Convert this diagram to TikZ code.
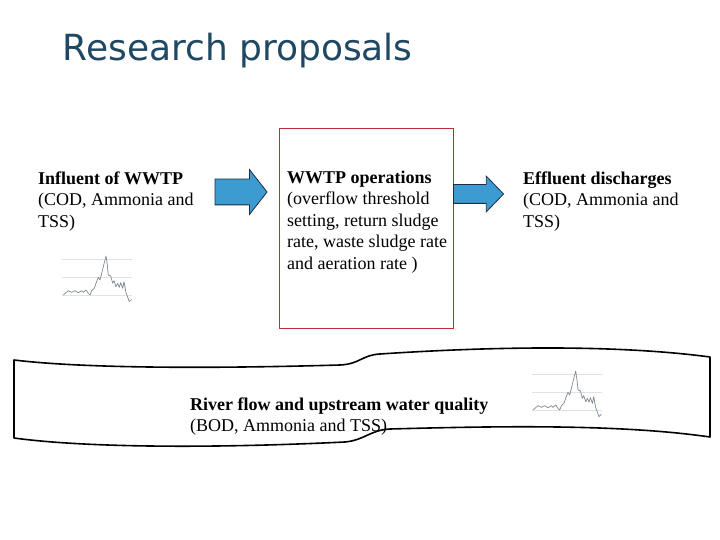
\documentclass[tikz,border=0pt]{standalone}
\usepackage{fontspec}
\setmainfont{Liberation Serif}
\newfontfamily\titlefont{DejaVu Sans}
\usetikzlibrary{shapes.arrows}
\definecolor{titleblue}{RGB}{31,72,99}
\definecolor{boxred}{RGB}{190,45,55}
\definecolor{arrowblue}{RGB}{60,155,208}
\definecolor{arrowedge}{RGB}{30,45,70}
\definecolor{sparkgray}{RGB}{125,135,150}
\definecolor{gridgray}{RGB}{226,226,226}
\tikzset{
  txt/.style={anchor=north west, inner sep=0pt, align=left, font=\fontsize{18}{21.6}\selectfont},
  opsbox/.style={draw=boxred, line width=0.8pt, minimum width=174pt, minimum height=200pt, inner sep=0pt},
  blockarr/.style={single arrow, draw=arrowedge, fill=arrowblue, line width=0.8pt, inner xsep=0pt,
    single arrow head indent=0pt},
  spark/.pic={
    \foreach \g in {0,-18,-36} \draw[gridgray, line width=0.5pt] (-1,\g) -- (69,\g);
    \draw[sparkgray, line width=0.7pt, line join=round]
      (0,0) -- (5,-4.3) -- (8.4,-2.7) -- (11.7,-4.3) -- (15,-2.3) -- (18.4,-4.3) -- (20,-2.7)
      -- (22.7,-5) -- (25,-1.7) -- (26.7,0) -- (28.4,-4.3) -- (31,-6.7) -- (32.7,-11.7)
      -- (35,-17.7) -- (36.7,-15) -- (38.4,-21.7) -- (40,-28.3) -- (42.7,-39) -- (44,-30)
      -- (45,-20) -- (47.4,-19) -- (49.4,-11.7) -- (50.7,-14.3) -- (52.7,-8.3) -- (54.4,-11.7)
      -- (56,-7.7) -- (57.4,-12.3) -- (59.4,-6.7) -- (60.7,-13.3) -- (62.7,-2.3) -- (64.4,2.3)
      -- (66,6.7) -- (68.4,4.3);
  }
}
\begin{document}
\begin{tikzpicture}[x=1pt, y=-1pt]
  \fill[white] (0,0) rectangle (720,540);
  \useasboundingbox (0,0) rectangle (720,540);
  \node[anchor=base west, inner sep=0pt, text=titleblue, font=\titlefont\fontsize{36}{40}\selectfont]
    (title) at (62.5,61) {Research proposals};

  \draw[line width=1.6pt, line join=round]
    (14,360) .. controls (80,368) and (200,369) .. (340,365)
    .. controls (360,364) and (362,355) .. (380,354)
    .. controls (500,346) and (620,345) .. (710,357)
    -- (710,437)
    .. controls (620,424) and (500,426) .. (390,429)
    .. controls (370,430) and (365,440) .. (345,442)
    .. controls (200,449) and (80,447) .. (14,438) -- cycle;

  \node[txt] (infl) at (38,171.5) {\textbf{Influent of WWTP}\\(COD, Ammonia and\\TSS)};
  \node[opsbox] (ops) at (366,228) {};
  \node[txt] (opstext) at (287,170.5) {\textbf{WWTP operations}\\(overflow threshold\\setting, return sludge\\rate, waste sludge rate\\and aeration rate )};
  \node[txt] (effl) at (523,171.5) {\textbf{Effluent discharges}\\(COD, Ammonia and\\TSS)};
  \node[txt] (river) at (190,397.5) {\textbf{River flow and upstream water quality}\\(BOD, Ammonia and TSS)};

  \node[blockarr, inner ysep=12.5pt, minimum height=52pt, single arrow head extend=9.5pt,
    single arrow tip angle=104] (arrin) at (236,192) {};
  \node[blockarr, inner ysep=9pt, minimum height=50pt, single arrow head extend=8.5pt,
    single arrow tip angle=92] (arrout) at (474,194) {};

  \pic at (63.3,295) {spark};
  \pic at (533,410) {spark};
\end{tikzpicture}
\end{document}
